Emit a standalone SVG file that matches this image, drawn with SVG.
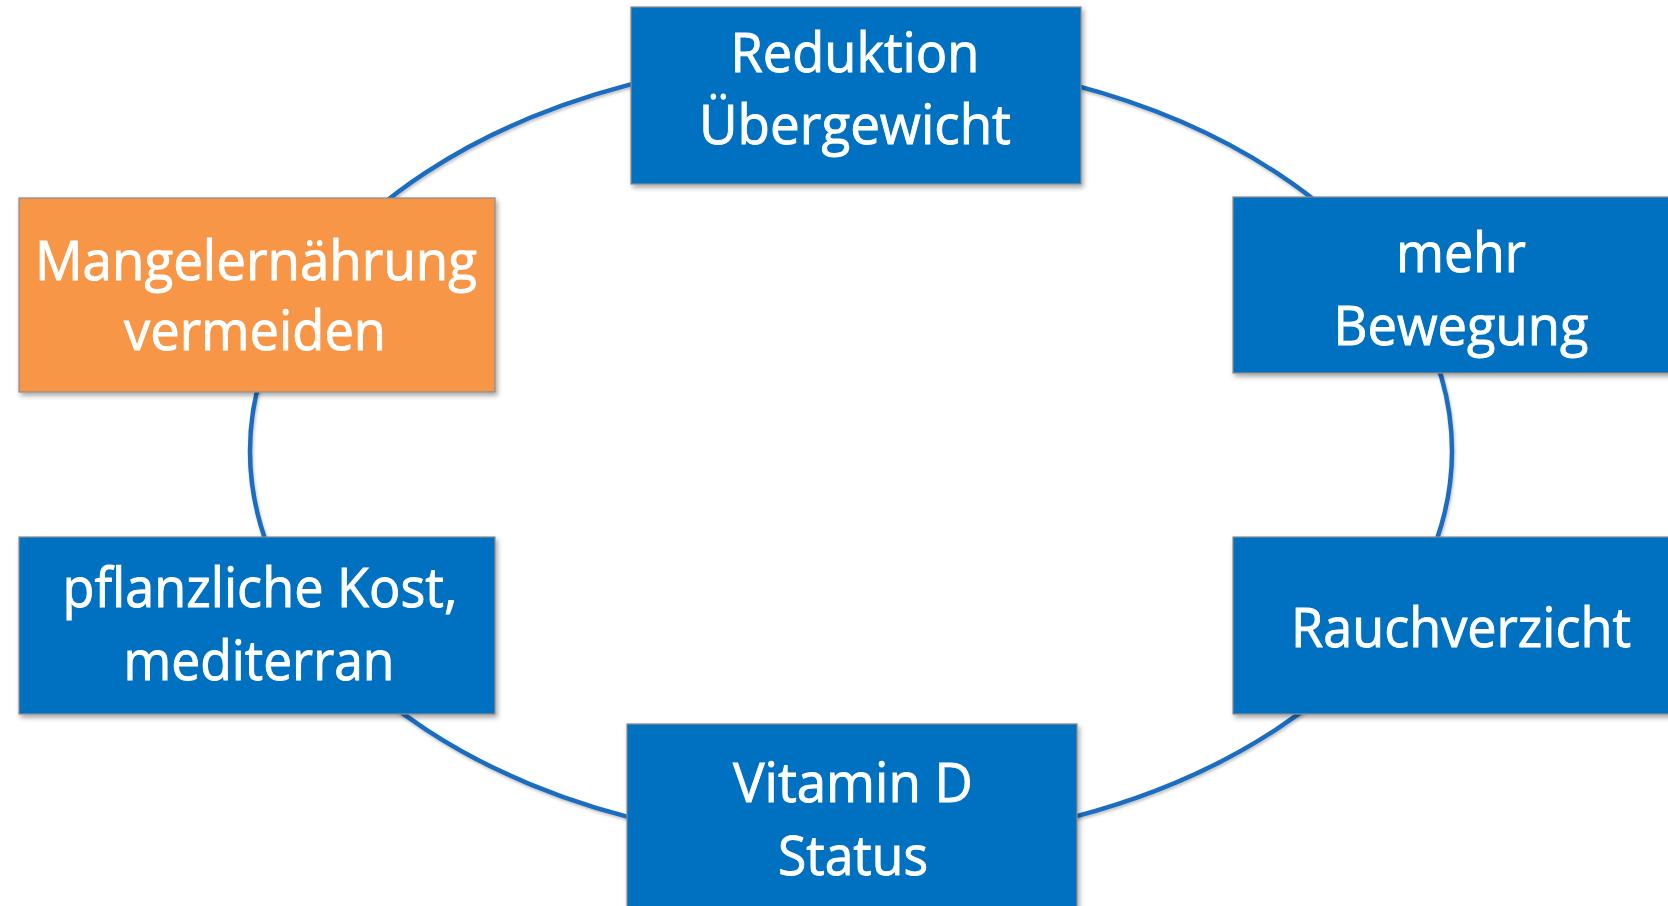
<svg xmlns="http://www.w3.org/2000/svg" width="1668" height="906" viewBox="0 0 1668 906">
  <defs>
    <filter id="shadow" x="-10%" y="-10%" width="125%" height="130%">
      <feDropShadow dx="2" dy="3" stdDeviation="2.5" flood-color="#000" flood-opacity="0.35"/>
    </filter>
    <filter id="lineShadow" x="-5%" y="-5%" width="110%" height="115%">
      <feDropShadow dx="1" dy="2" stdDeviation="1.5" flood-color="#000" flood-opacity="0.25"/>
    </filter>
  </defs>
  <style>
    .box { stroke: #8a8a8a; stroke-width: 1.2; filter: url(#shadow); }
    .blue { fill: #0070C0; }
    .orange { fill: #F79646; }
    .lbl { font-family: "Open Sans", "Noto Sans", "DejaVu Sans", sans-serif; font-size: 55px; fill: #ffffff; stroke: #ffffff; stroke-width: 0.9; text-anchor: middle; }
    .ring { fill: none; stroke: #1A6DBF; stroke-width: 4.5; filter: url(#lineShadow); }
  </style>
  <rect width="1668" height="906" fill="#ffffff"/>
  <g id="connectors">
    <ellipse class="ring" cx="851" cy="451" rx="601" ry="394"/>
  </g>
  <g id="node-reduktion">
    <rect class="box blue" x="631" y="7" width="450" height="177"/>
    <text class="lbl" x="855" y="72" textLength="249" lengthAdjust="spacingAndGlyphs">Reduktion</text>
    <text class="lbl" x="855" y="144" textLength="312" lengthAdjust="spacingAndGlyphs">Übergewicht</text>
  </g>
  <g id="node-mangel">
    <rect class="box orange" x="19" y="198" width="476" height="194"/>
    <text class="lbl" x="256" y="280" textLength="442" lengthAdjust="spacingAndGlyphs">Mangelernährung</text>
    <text class="lbl" x="255" y="350" textLength="262" lengthAdjust="spacingAndGlyphs">vermeiden</text>
  </g>
  <g id="node-bewegung">
    <rect class="box blue" x="1233" y="197" width="460" height="176"/>
    <text class="lbl" x="1461" y="272" textLength="130" lengthAdjust="spacingAndGlyphs">mehr</text>
    <text class="lbl" x="1461" y="345" textLength="255" lengthAdjust="spacingAndGlyphs">Bewegung</text>
  </g>
  <g id="node-pflanzlich">
    <rect class="box blue" x="19" y="537" width="476" height="177"/>
    <text class="lbl" x="260" y="607" textLength="395" lengthAdjust="spacingAndGlyphs">pflanzliche Kost,</text>
    <text class="lbl" x="259" y="680" textLength="271" lengthAdjust="spacingAndGlyphs">mediterran</text>
  </g>
  <g id="node-rauch">
    <rect class="box blue" x="1233" y="537" width="460" height="177"/>
    <text class="lbl" x="1461" y="647" textLength="340" lengthAdjust="spacingAndGlyphs">Rauchverzicht</text>
  </g>
  <g id="node-vitamin">
    <rect class="box blue" x="627" y="724" width="450" height="200"/>
    <text class="lbl" x="853" y="802" textLength="240" lengthAdjust="spacingAndGlyphs">Vitamin D</text>
    <text class="lbl" x="853" y="875" textLength="150" lengthAdjust="spacingAndGlyphs">Status</text>
  </g>
</svg>
